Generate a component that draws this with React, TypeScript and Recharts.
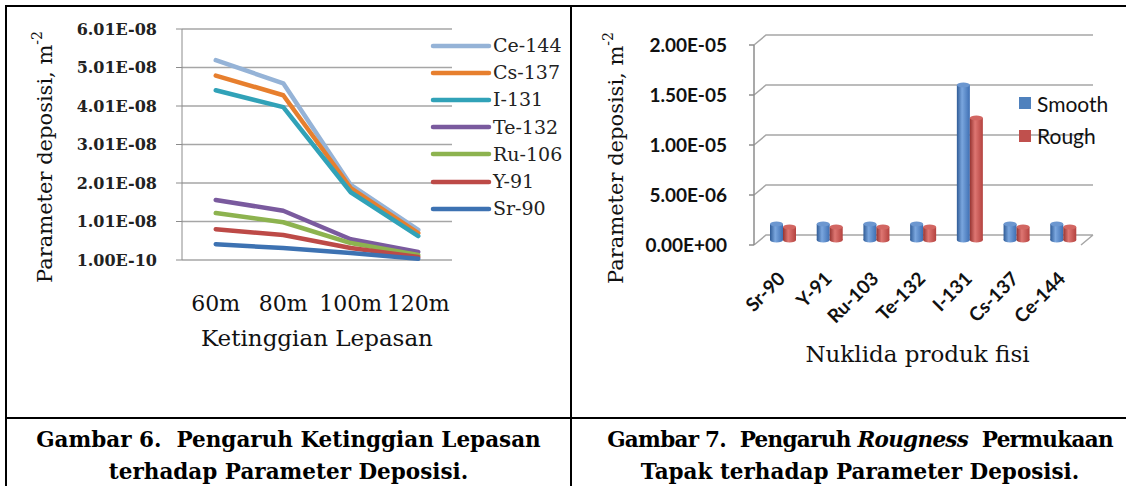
import React from 'react';
import { LineChart, Line, BarChart, Bar, XAxis, YAxis, CartesianGrid, Legend } from 'recharts';

// Gambar 6: release height vs deposition
const heights = ['60m', '80m', '100m', '120m'];
const ce144 = [5.2e-8, 4.6e-8, 1.96e-8, 7.9e-9];
const cs137 = [4.8e-8, 4.29e-8, 1.88e-8, 7.1e-9];
const i131 = [4.42e-8, 3.98e-8, 1.77e-8, 6.3e-9];
const te132 = [1.57e-8, 1.29e-8, 5.5e-9, 2.2e-9];
const ru106 = [1.23e-8, 9.9e-9, 4.5e-9, 1.4e-9];
const y91 = [8.1e-9, 6.6e-9, 3.2e-9, 9e-10];
const sr90 = [4.2e-9, 3.2e-9, 1.9e-9, 4e-10];
const lineNames = ['Ce-144', 'Cs-137', 'I-131', 'Te-132', 'Ru-106', 'Y-91', 'Sr-90'];
const lineColors = ['#95B3D7', '#E77F2E', '#31A2B8', '#7A5A9E', '#8DB34F', '#BD4A47', '#3D72B2'];
const heightTicks = [1.0e-10, 1.01e-8, 2.01e-8, 3.01e-8, 4.01e-8, 5.01e-8, 6.01e-8];

// Gambar 7: surface roughness vs deposition
const nuclides = ['Sr-90', 'Y-91', 'Ru-103', 'Te-132', 'I-131', 'Cs-137', 'Ce-144'];
const smooth = [1.6e-6, 1.6e-6, 1.6e-6, 1.6e-6, 1.55e-5, 1.6e-6, 1.6e-6];
const rough = [1.3e-6, 1.3e-6, 1.3e-6, 1.3e-6, 1.22e-5, 1.3e-6, 1.3e-6];
const roughTicks = [0, 5e-6, 1e-5, 1.5e-5, 2e-5];

const lineSeries = [ce144, cs137, i131, te132, ru106, y91, sr90];
const lineData = heights.map((h, i) => {
  const row: Record<string, any> = { name: h };
  lineNames.forEach((n, k) => (row[n] = lineSeries[k][i]));
  return row;
});
const barData = nuclides.map((n, i) => ({ name: n, Smooth: smooth[i], Rough: rough[i] }));

const SERIF = '"DejaVu Serif", serif';
const SANS = 'Lato, "Open Sans", sans-serif';
const GRID = '#A6A6A6';
const AXIS = '#8C8C8C';

// 3D wall depth for the bar chart
const DX = 12;
const DY = 10;
const R_BOTTOM = 245;

const sci = (v: number) => {
  if (v === 0) return '0.00E+00';
  const [m, e] = v.toExponential(2).split('e');
  const n = parseInt(e, 10);
  return `${m}E${n < 0 ? '-' : '+'}${String(Math.abs(n)).padStart(2, '0')}`;
};

const YTitle = ({ cx, cy }: { cx: number; cy: number }) => (
  <text
    x={cx}
    y={cy}
    transform={`rotate(-90 ${cx} ${cy})`}
    textAnchor="middle"
    dominantBaseline="central"
    fontFamily={SERIF}
    fontSize={21}
    fill="#111"
  >
    Parameter deposisi, m<tspan dy={-8} fontSize={14}>-2</tspan>
  </text>
);

const LineKey = () => (
  <div style={{ fontFamily: SERIF, fontSize: 19, color: '#222' }}>
    {lineNames.map((n, i) => (
      <div key={n} style={{ display: 'flex', alignItems: 'center', height: 27.2 }}>
        <svg width={63} height={8}>
          <line x1={3} y1={4} x2={59} y2={4} stroke={lineColors[i]} strokeWidth={4.5} strokeLinecap="round" />
        </svg>
        <span style={{ lineHeight: 1 }}>{n}</span>
      </div>
    ))}
  </div>
);

const BarKey = () => (
  <div style={{ fontFamily: SANS, fontSize: 21, color: '#111' }}>
    {[
      ['Smooth', '#4F81BD'],
      ['Rough', '#C0504D'],
    ].map(([n, c]) => (
      <div key={n} style={{ display: 'flex', alignItems: 'center', height: 32.5 }}>
        <div style={{ width: 12, height: 12, background: c, marginRight: 6 }} />
        <span style={{ lineHeight: 1 }}>{n}</span>
      </div>
    ))}
  </div>
);

const Cylinder = (props: any) => {
  const { x, y, width, height, gid, dark, light, mid, cap } = props;
  if (!height || height <= 0) return null;
  const X = x + DX / 2;
  const Y = y - DY / 2;
  const rx = width / 2;
  const ry = 2.5;
  return (
    <g>
      <defs>
        <linearGradient id={gid} x1="0" y1="0" x2="1" y2="0">
          <stop offset="0%" stopColor={dark} />
          <stop offset="40%" stopColor={light} />
          <stop offset="100%" stopColor={mid} />
        </linearGradient>
      </defs>
      <ellipse cx={X + rx} cy={Y + height} rx={rx} ry={ry} fill={`url(#${gid})`} />
      <rect x={X} y={Y} width={width} height={height} fill={`url(#${gid})`} />
      <ellipse cx={X + rx} cy={Y} rx={rx} ry={ry} fill={cap} />
    </g>
  );
};

const wallLine = (p: any) => {
  let d = `M${p.x1},${p.y1} L${p.x1 + DX},${p.y1 - DY} L${p.x2 + DX},${p.y2 - DY}`;
  if (Math.abs(p.y1 - R_BOTTOM) < 1) d += ` M${p.x2},${p.y2} L${p.x2 + DX},${p.y2 - DY}`;
  return <path key={`wl-${p.y1}`} d={d} stroke={GRID} strokeWidth={1.5} fill="none" />;
};

const SlantTick = (p: any) => {
  const ax = p.x + 9;
  const ay = p.y;
  return (
    <text
      x={ax}
      y={ay}
      transform={`rotate(-45 ${ax} ${ay})`}
      textAnchor="end"
      fontFamily={SANS}
      fontWeight={700}
      fontSize={19}
      fill="#111"
    >
      {p.payload.value}
    </text>
  );
};

const line = (top: number, left: number, width: number, height: number) => (
  <div style={{ position: 'absolute', top, left, width, height, background: '#000' }} />
);

const captionStyle: React.CSSProperties = {
  position: 'absolute',
  fontFamily: SERIF,
  fontWeight: 700,
  fontSize: 21.5,
  lineHeight: '32px',
  height: 32,
  textAlign: 'center',
  whiteSpace: 'pre',
  color: '#000',
};

export default function App() {
  return (
    <div style={{ position: 'absolute', left: 0, top: 0, width: 1126, height: 486, overflow: 'hidden', background: '#fff' }}>
      <div style={{ position: 'absolute', left: 0, top: 0 }}>
        <LineChart width={571} height={416} data={lineData} margin={{ top: 29, right: 119, left: 0, bottom: 46 }}>
          <CartesianGrid vertical={false} stroke={GRID} strokeWidth={1.5} />
          <XAxis type="number" domain={[0, 4]} ticks={[0, 1, 2, 3, 4]} allowDataOverflow height={0} tickFormatter={() => ''} stroke={AXIS} tickSize={6} />
          <XAxis
            xAxisId="cat"
            dataKey="name"
            scale="band"
            height={110}
            axisLine={false}
            tickLine={false}
            tickSize={0}
            tickMargin={35}
            interval={0}
            tick={{ fontFamily: SERIF, fontSize: 22, fill: '#111' }}
            label={{ value: 'Ketinggian Lepasan', position: 'insideTop', offset: 70, fontFamily: SERIF, fontSize: 23, fill: '#111' }}
          />
          <YAxis
            width={182}
            domain={[1e-10, 6.01e-8]}
            ticks={heightTicks}
            tickFormatter={sci}
            stroke={AXIS}
            tickSize={6}
            tickMargin={19}
            tick={{ fontFamily: SERIF, fontWeight: 700, fontSize: 16, fill: '#222' }}
            label={() => <YTitle cx={45} cy={157} />}
          />
          <Legend layout="vertical" align="center" verticalAlign="middle" content={() => <LineKey />} wrapperStyle={{ left: 430, top: 32 }} />
          {lineNames.map((n, i) => (
            <Line
              key={n}
              xAxisId="cat"
              dataKey={n}
              stroke={lineColors[i]}
              strokeWidth={4.5}
              strokeLinecap="round"
              strokeLinejoin="round"
              dot={false}
              isAnimationActive={false}
            />
          ))}
        </LineChart>
      </div>

      <div style={{ position: 'absolute', left: 573, top: 0 }}>
        <BarChart width={553} height={416} data={barData} barGap={0} margin={{ top: 45, right: 45, left: 0, bottom: 41 }}>
          <CartesianGrid vertical={false} horizontal={wallLine} />
          <XAxis type="number" domain={[0, 7]} ticks={[0, 1, 2, 3, 4, 5, 6, 7]} allowDataOverflow height={0} tickFormatter={() => ''} stroke={AXIS} strokeWidth={1.5} tickSize={6} />
          <XAxis
            xAxisId="cat"
            dataKey="name"
            height={130}
            axisLine={false}
            tickLine={false}
            tickSize={0}
            tickMargin={35}
            interval={0}
            tick={<SlantTick />}
            label={{ value: 'Nuklida produk fisi', position: 'insideTop', offset: 101, fontFamily: SERIF, fontSize: 23, fill: '#111' }}
          />
          <YAxis
            width={181}
            domain={[0, 2e-5]}
            ticks={roughTicks}
            tickFormatter={sci}
            stroke={AXIS}
            strokeWidth={1.5}
            tickSize={5}
            tickMargin={22}
            tick={{ fontFamily: SANS, fontWeight: 700, fontSize: 19, fill: '#111' }}
            label={() => <YTitle cx={43} cy={158} />}
          />
          <Legend layout="vertical" align="center" verticalAlign="middle" content={() => <BarKey />} wrapperStyle={{ left: 446, top: 87 }} />
          <Bar
            xAxisId="cat"
            dataKey="Smooth"
            barSize={13}
            isAnimationActive={false}
            shape={(p: any) => <Cylinder {...p} gid="cylSmooth" dark="#2F5B96" light="#7AA6DE" mid="#3E6FB3" cap="#6C97D0" />}
          />
          <Bar
            xAxisId="cat"
            dataKey="Rough"
            barSize={13}
            isAnimationActive={false}
            shape={(p: any) => <Cylinder {...p} gid="cylRough" dark="#963431" light="#DE7672" mid="#B4423F" cap="#D26662" />}
          />
        </BarChart>
      </div>

      {line(5, 5, 1121, 2)}
      {line(5, 5, 2, 481)}
      {line(5, 570, 2, 481)}
      {line(417, 5, 1121, 2)}

      <div style={{ ...captionStyle, top: 424, left: 7, width: 563 }}>{'Gambar 6.  Pengaruh Ketinggian Lepasan'}</div>
      <div style={{ ...captionStyle, top: 456, left: 7, width: 563 }}>terhadap Parameter Deposisi.</div>
      <div style={{ ...captionStyle, top: 424, left: 572, width: 576, letterSpacing: -0.7 }}>
        <span>{'Gambar 7.  Pengaruh '}</span>
        <i>Rougness</i>
        <span>{'  Permukaan'}</span>
      </div>
      <div style={{ ...captionStyle, top: 456, left: 572, width: 576 }}>Tapak terhadap Parameter Deposisi.</div>
    </div>
  );
}
